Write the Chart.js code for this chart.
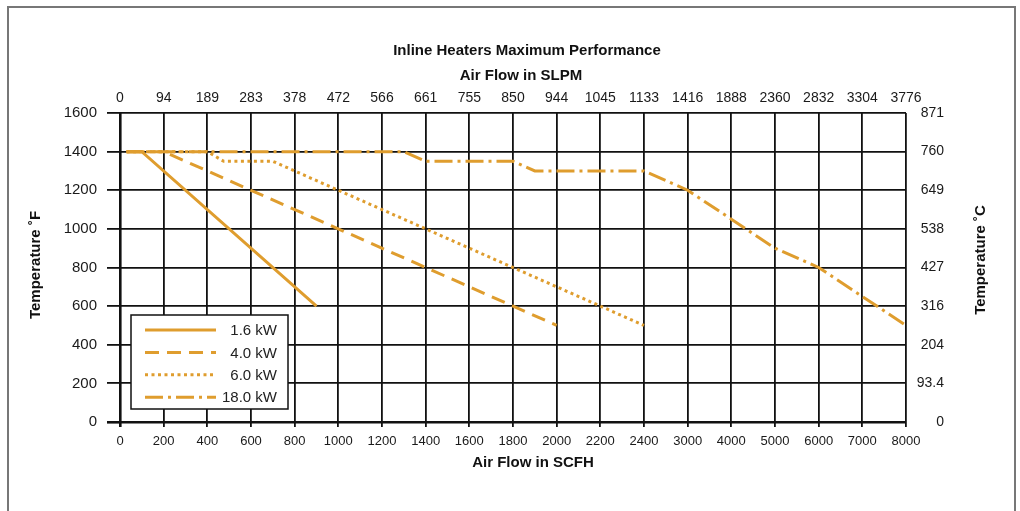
<!DOCTYPE html>
<html>
<head>
<meta charset="utf-8">
<script src="https://cdn.jsdelivr.net/npm/chart.js@4.4.1/dist/chart.umd.min.js"></script>
<style>
  html, body { margin: 0; padding: 0; background: #fff; }
  #wrap { position: relative; width: 1020px; height: 511px; overflow: hidden; }
  #frame { position: absolute; left: 7px; top: 6px; width: 1005px; height: 600px; border: 2px solid #777; }
  canvas { position: absolute; left: 0; top: 0; }
</style>
</head>
<body>
<div id="wrap">
  <div id="frame"></div>
  <canvas id="perfChart" width="1020" height="511"></canvas>
</div>
<script>
// bottom axis ticks (SCFH), not evenly spaced - each gets the same width on the chart
const scfhTicks = [0, 200, 400, 600, 800, 1000, 1200, 1400, 1600, 1800, 2000, 2200, 2400, 3000, 4000, 5000, 6000, 7000, 8000];
const slpmTicks = ['0', '94', '189', '283', '378', '472', '566', '661', '755', '850', '944', '1045', '1133', '1416', '1888', '2360', '2832', '3304', '3776'];
const celsiusTicks = ['0', '93.4', '204', '316', '427', '538', '649', '760', '871'];

const seriesNames = ['1.6 kW', '4.0 kW', '6.0 kW', '18.0 kW'];

const flow16 = [30, 100, 900];
const temp16 = [1400, 1400, 600];
const flow40 = [30, 200, 2000];
const temp40 = [1400, 1400, 500];
const flow60 = [30, 400, 475, 700, 2400];
const temp60 = [1400, 1400, 1350, 1350, 500];
const flow180 = [30, 1300, 1400, 1800, 1900, 2400, 3000, 4000, 5000, 6000, 7000, 8000];
const temp180 = [1400, 1400, 1350, 1350, 1300, 1300, 1200, 1050, 900, 800, 650, 500];

const lineColor = '#DF9D2E';
const fontFamily = '"Liberation Sans", Arial, sans-serif';
const boldFont = 'bold 15px ' + fontFamily;

// scale that gives every tick interval the same width (like the original sheet)
class SlotScale extends Chart.LinearScale {
    static id = 'slot';
    static defaults = {};

    buildTicks() {
        return scfhTicks.map(v => ({ value: v }));
    }

    toSlot(v) {
        const n = scfhTicks.length;
        if (v <= scfhTicks[0]) return (v - scfhTicks[0]) / (scfhTicks[1] - scfhTicks[0]);
        for (let i = 0; i < n - 1; i++) {
            const a = scfhTicks[i], b = scfhTicks[i + 1];
            if (v <= b) return i + (v - a) / (b - a);
        }
        return n - 1 + (v - scfhTicks[n - 1]) / (scfhTicks[n - 1] - scfhTicks[n - 2]);
    }

    getPixelForValue(value) {
        if (value === null || value === undefined || isNaN(value)) return NaN;
        return this.getPixelForDecimal(this.toSlot(value) / (scfhTicks.length - 1));
    }

    getValueForPixel(pixel) {
        const s = this.getDecimalForPixel(pixel) * (scfhTicks.length - 1);
        const i = Math.max(0, Math.min(scfhTicks.length - 2, Math.floor(s)));
        return scfhTicks[i] + (s - i) * (scfhTicks[i + 1] - scfhTicks[i]);
    }
}
Chart.register(SlotScale);

function toPoints(xs, ys) {
    return xs.map((x, i) => ({ x: x, y: ys[i] }));
}

function drawText(ctx, text, x, y, rotate) {
    ctx.save();
    ctx.font = boldFont;
    ctx.fillStyle = '#111';
    ctx.textAlign = 'center';
    ctx.textBaseline = 'middle';
    ctx.translate(x, y);
    if (rotate) ctx.rotate(-Math.PI / 2);
    ctx.fillText(text, 0, 0);
    ctx.restore();
}

// titles and the boxed legend
const extrasPlugin = {
    id: 'extras',
    afterDraw(chart) {
        const ctx = chart.ctx;
        const a = chart.chartArea;

        drawText(ctx, 'Inline Heaters Maximum Performance', 527, 51, false);
        drawText(ctx, 'Air Flow in SLPM', 521, 76, false);
        drawText(ctx, 'Air Flow in SCFH', 533, 463, false);
        drawText(ctx, 'Temperature \u02DAF', 36, 265, true);
        drawText(ctx, 'Temperature \u02DAC', 981, 260, true);

        const bx = a.left + 11, by = a.bottom - 107, bw = 157, bh = 94;
        ctx.save();
        ctx.fillStyle = '#fff';
        ctx.fillRect(bx, by, bw, bh);
        ctx.strokeStyle = '#111';
        ctx.lineWidth = 1.5;
        ctx.strokeRect(bx, by, bw, bh);
        chart.data.datasets.forEach((ds, i) => {
            const y = by + 15 + i * 22.4;
            ctx.beginPath();
            ctx.setLineDash(ds.borderDash || []);
            ctx.strokeStyle = ds.borderColor;
            ctx.lineWidth = ds.borderWidth;
            ctx.moveTo(bx + 14, y);
            ctx.lineTo(bx + 85, y);
            ctx.stroke();
            ctx.setLineDash([]);
            ctx.fillStyle = '#222';
            ctx.font = '15px ' + fontFamily;
            ctx.textAlign = 'right';
            ctx.textBaseline = 'middle';
            ctx.fillText(ds.label, bx + 146, y + 1);
        });
        ctx.restore();
    }
};

Chart.defaults.font.family = fontFamily;
Chart.defaults.color = '#1a1a1a';

const gridWidth = c => (c.index === 0 ? 2.6 : 1.8);

new Chart(document.getElementById('perfChart'), {
    type: 'line',
    data: {
        datasets: [
            { label: seriesNames[0], data: toPoints(flow16, temp16), borderDash: [] },
            { label: seriesNames[1], data: toPoints(flow40, temp40), borderDash: [14, 8] },
            { label: seriesNames[2], data: toPoints(flow60, temp60), borderDash: [3, 3.5] },
            { label: seriesNames[3], data: toPoints(flow180, temp180), borderDash: [18, 5, 3, 5] }
        ].map(ds => Object.assign(ds, {
            borderColor: lineColor,
            backgroundColor: lineColor,
            borderWidth: 3,
            pointRadius: 0,
            tension: 0,
            fill: false,
            xAxisID: 'x',
            yAxisID: 'y'
        }))
    },
    options: {
        responsive: false,
        animation: false,
        layout: { padding: { left: 0, top: 0, bottom: 0, right: 76 } },
        plugins: {
            legend: { display: false },
            tooltip: { enabled: false }
        },
        scales: {
            x: {
                type: 'slot',
                position: 'bottom',
                min: 0,
                max: 8000,
                grid: { color: '#111', lineWidth: gridWidth, drawTicks: true, tickLength: 5 },
                border: { display: false },
                ticks: { autoSkip: false, maxRotation: 0, padding: 7, font: { size: 13 }, callback: v => String(v) },
                afterFit: s => { s.height = 89; }
            },
            x2: {
                type: 'slot',
                position: 'top',
                min: 0,
                max: 8000,
                grid: { display: false, drawTicks: false },
                border: { display: false },
                ticks: { autoSkip: false, maxRotation: 0, padding: 6, font: { size: 14 }, callback: (v, i) => slpmTicks[i] },
                afterFit: s => { s.height = 113; }
            },
            y: {
                position: 'left',
                min: 0,
                max: 1600,
                grid: { color: '#111', lineWidth: gridWidth, drawTicks: true, tickLength: 13 },
                border: { display: false },
                ticks: { stepSize: 200, padding: 10, font: { size: 15 }, callback: v => String(v) },
                afterFit: s => { s.width = 120; }
            },
            y2: {
                position: 'right',
                min: 0,
                max: 1600,
                grid: { display: false, drawTicks: false },
                border: { display: false },
                ticks: { stepSize: 200, padding: 11, crossAlign: 'far', font: { size: 14 }, callback: (v, i) => celsiusTicks[i] },
                afterFit: s => { s.width = 944 - 906; }
            }
        }
    },
    plugins: [extrasPlugin]
});
</script>
</body>
</html>
